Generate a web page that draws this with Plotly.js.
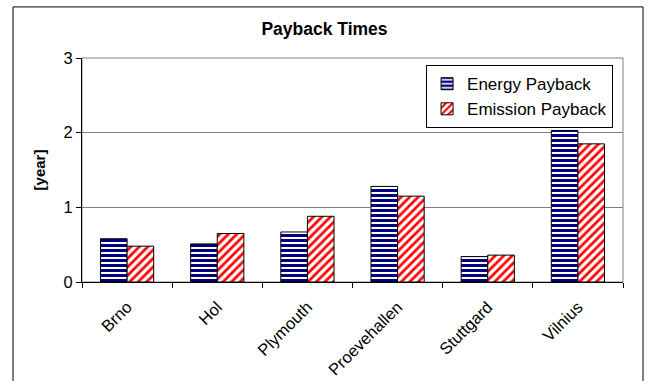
<!DOCTYPE html>
<html><head><meta charset="utf-8">
<script src="https://cdn.plot.ly/plotly-3.0.1.min.js"></script>
<style>html,body{margin:0;padding:0;background:#fff;}#chart{width:649px;height:381px;}</style>
</head><body><div id="chart"></div>
<script>
const categories = ["Brno", "Hol", "Plymouth", "Proevehallen", "Stuttgard", "Vilnius"];
const energyPayback = [0.58, 0.51, 0.67, 1.28, 0.34, 2.03];
const emissionPayback = [0.48, 0.65, 0.88, 1.15, 0.36, 1.85];
const yTicks = [0, 1, 2, 3];

const font = "Liberation Sans, Arial, sans-serif";
const traces = [
  {type: "bar", name: "Energy Payback", x: categories, y: energyPayback,
   marker: {color: "#ffffff", line: {color: "#000000", width: 1},
            pattern: {shape: "-", fgcolor: "#000080", bgcolor: "#ffffff", size: 5, solidity: 0.6}}},
  {type: "bar", name: "Emission Payback", x: categories, y: emissionPayback,
   marker: {color: "#ffffff", line: {color: "#000000", width: 1},
            pattern: {shape: "/", fgcolor: "#ff0000", bgcolor: "#ffffff", size: 6, solidity: 0.45}}}
];
const layout = {
  width: 649, height: 381,
  margin: {l: 82, r: 26, t: 58, b: 99},
  paper_bgcolor: "#ffffff", plot_bgcolor: "#ffffff",
  font: {family: font, color: "#000000", size: 16},
  title: {text: "<b>Payback Times</b>", font: {family: font, size: 17.5}, x: 0.5, xanchor: "center", y: 0.924, yanchor: "middle"},
  barmode: "group", bargap: 0.41, bargroupgap: 0,
  showlegend: true,
  legend: {x: 0.636, y: 0.968, xanchor: "left", yanchor: "top", bgcolor: "#ffffff",
           bordercolor: "#000000", borderwidth: 1, font: {family: font, size: 17},
           tracegroupgap: 0, itemwidth: 30},
  xaxis: {type: "category", tickangle: -45, ticks: "outside", tickson: "boundaries", ticklen: 5,
          tickcolor: "#000000", showline: true, linecolor: "#000000", linewidth: 1,
          showgrid: false, tickfont: {family: font, size: 16.5}, ticklabelstandoff: 8, fixedrange: true},
  yaxis: {range: [0, 3], tickvals: yTicks, ticktext: yTicks.map(String), ticks: "outside", ticklen: 5,
          tickcolor: "#000000", showline: true, linecolor: "#000000", linewidth: 1,
          showgrid: true, gridcolor: "#808080", gridwidth: 1, zeroline: false,
          tickfont: {family: font, size: 16.5},
          title: {text: "<b>[year]</b>", font: {family: font, size: 15}, standoff: 14}},
  shapes: [
    {type: "rect", xref: "paper", yref: "paper", x0: 0, x1: 1, y0: 0, y1: 1,
     line: {color: "#808080", width: 1}, layer: "below"},
    {type: "rect", xref: "paper", yref: "paper", x0: -0.1275, x1: 1.037, y0: -0.46, y1: 1.228,
     line: {color: "#000000", width: 1}, layer: "above"}
  ]
};
Plotly.newPlot("chart", traces, layout, {staticPlot: true, displayModeBar: false});
</script></body></html>
